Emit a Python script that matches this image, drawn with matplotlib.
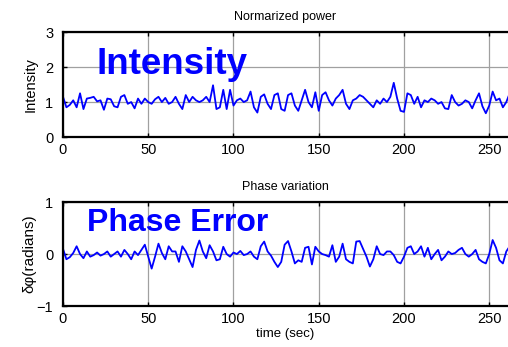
import numpy as np
import matplotlib
matplotlib.use("Agg")
import matplotlib.pyplot as plt

plt.rcParams['font.family'] = ['Liberation Sans', 'DejaVu Sans']

# one value every 2 s
t = np.arange(0, 264, 2)

intensity = [
    1.15, 0.85, 0.92, 1.05, 0.85, 1.25, 0.80, 1.10, 1.12, 1.15,
    1.02, 1.05, 0.78, 1.10, 1.08, 0.88, 0.85, 1.15, 1.20, 0.95,
    1.00, 0.82, 1.10, 0.95, 1.10, 1.00, 0.95, 1.08, 1.15, 1.00,
    1.12, 0.95, 1.00, 1.15, 0.95, 0.80, 1.20, 1.00, 1.15, 1.05,
    1.00, 1.05, 1.15, 1.00, 1.48, 0.80, 0.85, 1.35, 0.80, 1.35,
    0.90, 1.05, 1.10, 1.00, 1.05, 1.30, 0.85, 0.70, 1.15, 1.22,
    0.95, 0.80, 1.20, 1.25, 0.80, 0.75, 1.20, 1.25, 0.90, 0.75,
    1.05, 1.35, 1.00, 0.85, 1.28, 0.75, 1.20, 1.28, 1.05, 0.90,
    1.10, 1.20, 1.35, 0.95, 0.80, 1.05, 1.10, 1.20, 1.15, 1.05,
    0.95, 0.85, 1.05, 0.95, 1.10, 1.00, 1.15, 1.55, 1.10, 0.75,
    0.72, 1.25, 1.20, 0.95, 1.15, 0.85, 1.05, 1.00, 1.10, 1.05,
    0.95, 1.00, 0.82, 0.80, 1.20, 1.00, 0.90, 0.95, 1.05, 1.00,
    0.82, 1.05, 1.25, 0.88, 0.68, 0.90, 1.30, 1.05, 1.10, 0.85,
    1.00, 1.25,
]

phase = [
    0.10, -0.10, -0.06, 0.02, 0.15, 0.00, -0.08, 0.05, -0.05, -0.02,
    0.03, -0.03, 0.00, 0.05, -0.05, 0.00, 0.05, -0.05, 0.08, 0.00,
    -0.10, 0.05, -0.02, 0.08, 0.18, -0.05, -0.28, -0.05, 0.20, 0.02,
    -0.10, 0.15, 0.05, 0.05, -0.15, 0.15, 0.05, -0.10, -0.25, 0.08,
    0.26, 0.05, -0.08, 0.17, 0.05, -0.12, -0.10, 0.14, 0.00, -0.05,
    0.03, 0.00, 0.06, -0.02, 0.00, 0.05, -0.05, -0.10, 0.15, 0.24,
    0.05, -0.03, -0.15, -0.25, -0.15, 0.18, 0.25, 0.05, -0.18, -0.12,
    -0.15, 0.12, 0.14, -0.20, 0.14, 0.05, 0.00, -0.02, -0.05, 0.17,
    -0.15, -0.05, 0.20, -0.10, -0.15, -0.18, 0.24, 0.25, 0.10, -0.05,
    -0.24, -0.10, 0.15, 0.00, -0.02, 0.05, 0.05, -0.02, -0.15, -0.18,
    -0.05, 0.12, 0.15, 0.00, 0.05, 0.15, -0.05, 0.12, -0.10, 0.00,
    0.08, -0.12, -0.05, 0.05, 0.00, 0.02, 0.08, 0.12, 0.00, -0.05,
    0.00, 0.08, -0.10, -0.15, -0.18, 0.00, 0.27, 0.12, -0.12, -0.18,
    0.05, 0.15,
]

xticks = [0, 50, 100, 150, 200, 250]

fig = plt.figure(figsize=(5.08, 3.47), dpi=100)
ax1 = fig.add_axes([0.124, 0.605, 0.876, 0.3026])
ax2 = fig.add_axes([0.124, 0.118, 0.876, 0.2997])


def style(ax, ylim, yticks):
    ax.set_xlim(0, 261)
    ax.set_ylim(*ylim)
    ax.set_xticks(xticks)
    ax.set_yticks(yticks)
    ax.grid(True, color="#a0a0a0", linewidth=0.9)
    ax.set_axisbelow(True)
    ax.tick_params(direction="in", top=True, right=False, length=3,
                   width=1, labelsize=10.5, pad=4)
    ax.tick_params(axis="y", pad=7)
    for s in ax.spines.values():
        s.set_linewidth(1.6)
    ax.spines["right"].set_visible(False)


ax1.plot(t, intensity, color="blue", linewidth=1.3)
style(ax1, (0, 3), [0, 1, 2, 3])
ax1.set_title("Normarized power", fontsize=9, pad=9)
ax1.set_ylabel("Intensity", fontsize=10.5, labelpad=5)
ax1.text(19.5, 1.8, "Intensity", color="blue", fontsize=26.5,
         fontweight="bold", va="baseline")

ax2.plot(t, phase, color="blue", linewidth=1.3)
style(ax2, (-1, 1), [-1, 0, 1])
ax2.set_title("Phase variation", fontsize=9, pad=9)
ax2.set_ylabel("δφ(radians)", fontsize=11, labelpad=0)
ax2.set_xlabel("time (sec)", fontsize=9.5, labelpad=2)
ax2.text(14, 0.45, "Phase Error", color="blue", fontsize=23,
         fontweight="bold", va="baseline")

fig.savefig("out.png", dpi=100)
